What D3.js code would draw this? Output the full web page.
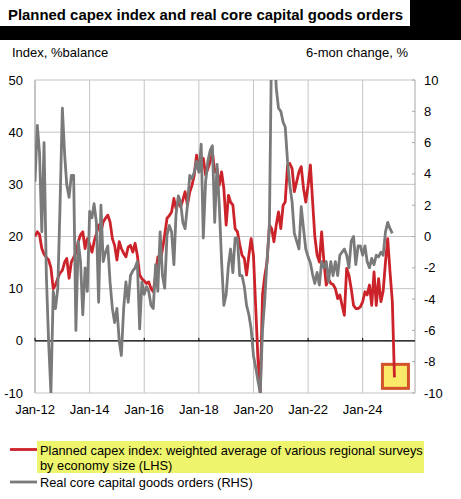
<!DOCTYPE html>
<html>
<head>
<meta charset="utf-8">
<script src="https://cdn.jsdelivr.net/npm/d3@7"></script>
<style>
  body { margin: 0; background: #fff; }
  svg { display: block; font-family: "Liberation Sans", Arial, sans-serif; }
</style>
</head>
<body>
<div id="chart"></div>
<script>
"use strict"

// monthly values, starting Jan 2012
var startYear = 2012;
// planned capex index, %balance (LHS)
var capexIndex = [
    20, 20.9, 20.4, 17.7, 16.6, 16, 15.5, 14, 10, 10.7, 12, 13,
    13.5, 15.1, 15.8, 12, 15.1, 16, 16.8, 19, 20.3, 20.9, 17.7, 19.6,
    18.5, 17, 19, 20.5, 22.2, 20.9, 22.8, 23.5, 24.1, 22.8, 19.6, 18.3,
    15.5, 19, 17.7, 16.8, 16.1, 18, 18.3, 17, 18.7, 16.4, 12.6, 11.9,
    11.5, 11, 11.3, 10, 9.4, 12.6, 16.1, 15.1, 17.5, 20.3, 23.5, 24,
    24.7, 27.3, 25.4, 26.6, 25.7, 27, 28.6, 26, 28.5, 29.8, 31.8, 35.6,
    33, 33.5, 35, 31.8, 33, 34.3, 36.2, 32.4, 33, 29.8, 32.4, 29.2,
    22.2, 27.9, 26.6, 26, 21.5, 20.9, 18.5, 16.4, 15.8, 12.6, 16.4, 19.6,
    16.4, 6.2, -3.4, -10, 8.8, 12.5, 15.1, 22.2, 21.5, 19, 22.2, 24.7,
    21.5, 26, 26.6, 33.7, 34, 33, 28.6, 30.5, 32.4, 33.4, 29.2, 26.6,
    29.8, 33.7, 27, 20, 16.5, 15.1, 20.9, 15.1, 10.7, 11.9, 11, 10.8,
    10, 8.1, 8.8, 6.8, 4.9, 13.9, 12.6, 10, 6.8, 6.2, 6.2, 6.5,
    7.5, 9.4, 8.8, 10.7, 6.8, 13.2, 6.8, 11.9, 7.5, 9.5, 15.1, 19.6,
    13.2, 7.5, -7
];
// real core capital goods orders, 6-mon change % (RHS)
var coreOrders = [
    3.5, 7.1, 5.4, 0.3, 6.0, -2.5, -6.7, -10, -3.5, -4.6, -3.3, 2.0,
    8.2, 5.2, 3.3, 2.5, 3.9, 3.9, -6, -0.3, -1.6, -5, -2.0, -3.5,
    1.6, 1.2, 2.1, 0.9, -4.2, 2.0, -1.6, -1.0, -0.6, -2.9, -4.6, -5.5,
    -4.6, -6.7, -7.6, -4.6, -2.9, -4.2, -2.5, -2.2, -2.0, -1.6, -5.9, -2.9,
    -3.7, -3.2, -3.5, -4.4, -4.6, -1.8, -3.5, 0.3, -2.5, -3.3, 0.1, 0.7,
    0.3, -1.8, 1.4, 2.6, 2.2, 0.9, 0.5, 2.0, 3.9, 3.7, 4.1, 4.8,
    4.1, 5.9, -0.1, 3.5, 4.8, 5.5, 5.8, 0.9, 4.6, 2.0, -1.6, -4.4,
    -3.7, -1.8, -0.8, -2.3, -0.1, -0.1, -2.5, -2.5, -3.2, -4.4, -5.0, -5.9,
    -7.6, -8.4, -9.2, -10, -6, -4, -1.5, 0.5, 13, 13, 9.5, 8.2,
    8.0, 7.3, 7.0, 4.8, 3.3, 2.2, 0.2, -0.3, -0.8, 1.9, 0.5, -0.8,
    -1.3, -1.7, -2.4, -3.0, -2.3, -3.1, -1.6, -2.0, -1.6, -2.9, -1.6, -2.5,
    -1.6, -2.5, -1.2, -1.0, -0.8, -1.2, -2.0, -0.3, 0, -1.8, -0.6, -0.6,
    -1.2, -0.6, -1.6, -2.0, -1.4, -1.8, -1.2, -1.3, -1.0, -1.2, 0.3, 0.9,
    0.5, 0.2
];
var leftTicks = [-10, 0, 10, 20, 30, 40, 50];
var rightTicks = [-10, -8, -6, -4, -2, 0, 2, 4, 6, 8, 10];
var xTickYears = [2012, 2014, 2016, 2018, 2020, 2022, 2024];
var titleText = "Planned capex index and real core capital goods orders";
var legendLines = ["Planned capex index: weighted average of various regional surveys", "by economy size (LHS)"];
var legendGray = "Real core capital goods orders (RHS)";

var red = "#cc2229";
var gray = "#7a7a7a";
var grid = "#c4c4c4";

var W = 461, H = 499;
var plot = {left: 35, right: 415, top: 80, bottom: 393};

var svg = d3.select("#chart").append("svg")
    .attr("width", W)
    .attr("height", H);

// header: white title box on black band
svg.append("rect").attr("x", 0).attr("y", 0).attr("width", W).attr("height", 40).attr("fill", "#000");
svg.append("rect").attr("x", 0).attr("y", 0).attr("width", 410).attr("height", 26).attr("fill", "#fff");
svg.append("text")
    .attr("x", 8).attr("y", 20)
    .attr("textLength", 395).attr("lengthAdjust", "spacingAndGlyphs")
    .style("font-size", "15px").style("font-weight", "bold")
    .text(titleText);

// scales
var toDate = function(i) { return new Date(startYear, i, 1); };
var x = d3.scaleTime()
    .domain([new Date(2012, 0, 1), new Date(2025, 11, 1)])
    .range([plot.left, plot.right]);
var yL = d3.scaleLinear().domain([-10, 50]).range([plot.bottom, plot.top]);
var yR = d3.scaleLinear().domain([-10, 10]).range([plot.bottom, plot.top]);

// axis titles
svg.append("text").attr("x", 12).attr("y", 57).style("font-size", "13px").text("Index, %balance");
svg.append("text").attr("x", 408).attr("y", 57).attr("text-anchor", "end").style("font-size", "13px").text("6-mon change, %");

// grid
var g = svg.append("g");
g.selectAll(".hgrid").data(leftTicks).enter().append("line")
    .attr("x1", plot.left).attr("x2", plot.right)
    .attr("y1", function(d) { return yL(d); }).attr("y2", function(d) { return yL(d); })
    .attr("stroke", grid).attr("stroke-width", 1);
g.selectAll(".vgrid").data(xTickYears).enter().append("line")
    .attr("x1", function(d) { return x(new Date(d, 0, 1)); })
    .attr("x2", function(d) { return x(new Date(d, 0, 1)); })
    .attr("y1", plot.top).attr("y2", plot.bottom)
    .attr("stroke", grid).attr("stroke-width", 1);
g.append("line").attr("x1", plot.right).attr("x2", plot.right)
    .attr("y1", plot.top).attr("y2", plot.bottom)
    .attr("stroke", "#a8a8a8").attr("stroke-width", 1);
g.append("line").attr("x1", plot.left).attr("x2", plot.left)
    .attr("y1", plot.top).attr("y2", plot.bottom)
    .attr("stroke", "#a8a8a8").attr("stroke-width", 1);

// right axis ticks, pointing inwards
g.selectAll(".rtick").data(rightTicks).enter().append("line")
    .attr("x1", plot.right - 3).attr("x2", plot.right)
    .attr("y1", function(d) { return yR(d); }).attr("y2", function(d) { return yR(d); })
    .attr("stroke", "#a8a8a8");

// zero line
g.append("line").attr("x1", plot.left).attr("x2", plot.right)
    .attr("y1", yL(0)).attr("y2", yL(0))
    .attr("stroke", "#000").attr("stroke-width", 1.3);
g.selectAll(".xtick").data(xTickYears).enter().append("line")
    .attr("x1", function(d) { return x(new Date(d, 0, 1)); })
    .attr("x2", function(d) { return x(new Date(d, 0, 1)); })
    .attr("y1", yL(0) - 3).attr("y2", yL(0))
    .attr("stroke", "#000");

// tick labels
svg.selectAll(".lt").data(leftTicks).enter().append("text")
    .attr("x", 23).attr("y", function(d) { return yL(d) + 4.5; })
    .attr("text-anchor", "end").style("font-size", "13px")
    .text(function(d) { return d; });
svg.selectAll(".rt").data(rightTicks).enter().append("text")
    .attr("x", 424).attr("y", function(d) { return yR(d) + 4.5; })
    .style("font-size", "13px")
    .text(function(d) { return d; });
svg.selectAll(".xt").data(xTickYears).enter().append("text")
    .attr("x", function(d) { return x(new Date(d, 0, 1)); })
    .attr("y", 414).attr("text-anchor", "middle").style("font-size", "13px")
    .text(function(d) { return d3.timeFormat("%b-%y")(new Date(d, 0, 1)); });

// clip
svg.append("clipPath").attr("id", "clip").append("rect")
    .attr("x", plot.left).attr("y", plot.top)
    .attr("width", plot.right - plot.left).attr("height", plot.bottom - plot.top);

// highlight box around latest capex reading
var lastI = capexIndex.length - 1;
svg.append("rect")
    .attr("x", x(toDate(lastI)) - 12).attr("y", yL(capexIndex[lastI]) - 13)
    .attr("width", 26).attr("height", 24)
    .attr("fill", "#fbe96a").attr("stroke", "#d2532b").attr("stroke-width", 3);

var lineL = d3.line()
    .x(function(d, i) { return x(toDate(i)); })
    .y(function(d) { return yL(d); });
var lineR = d3.line()
    .x(function(d, i) { return x(toDate(i)); })
    .y(function(d) { return yR(d); });

var lines = svg.append("g").attr("clip-path", "url(#clip)");
lines.append("path").datum(capexIndex)
    .attr("d", lineL).attr("fill", "none")
    .attr("stroke", red).attr("stroke-width", 2.8).attr("stroke-linejoin", "round");
lines.append("path").datum(coreOrders)
    .attr("d", lineR).attr("fill", "none")
    .attr("stroke", gray).attr("stroke-width", 2.8).attr("stroke-linejoin", "round");

// legend
svg.append("rect").attr("x", 37).attr("y", 441).attr("width", 387).attr("height", 32).attr("fill", "#eef46c");
svg.append("line").attr("x1", 10).attr("x2", 37).attr("y1", 449.5).attr("y2", 449.5)
    .attr("stroke", red).attr("stroke-width", 2.8);
svg.selectAll(".lg").data(legendLines).enter().append("text")
    .attr("x", 40).attr("y", function(d, i) { return 454.5 + i * 15; })
    .style("font-size", "12.8px")
    .text(function(d) { return d; });
svg.append("line").attr("x1", 10).attr("x2", 37).attr("y1", 482).attr("y2", 482)
    .attr("stroke", gray).attr("stroke-width", 2.8);
svg.append("text").attr("x", 40).attr("y", 486.5).style("font-size", "12.8px").text(legendGray);
</script>
</body>
</html>
